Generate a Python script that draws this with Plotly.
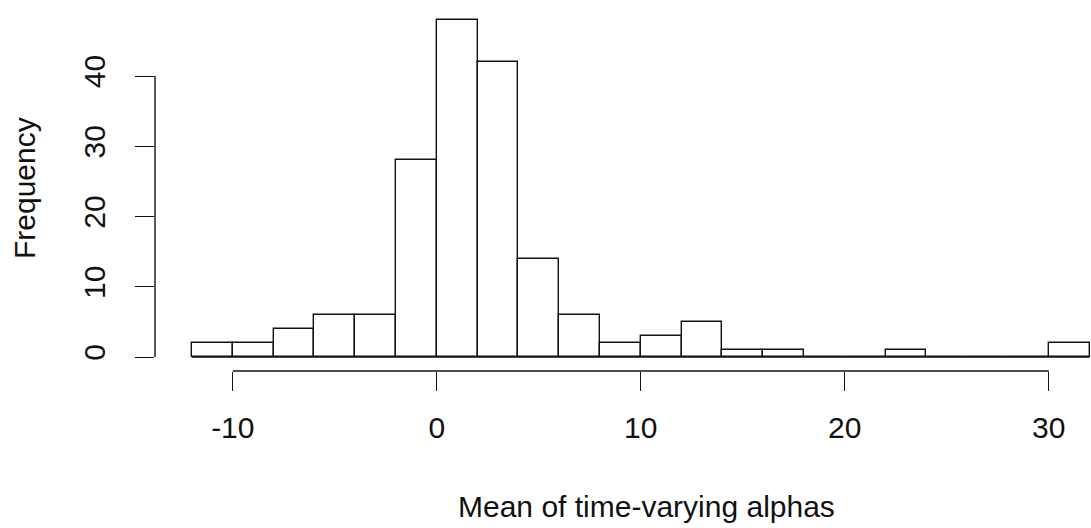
import plotly.graph_objects as go

# Histogram bins (left edges, width 2) and counts
bin_left = [-12, -10, -8, -6, -4, -2, 0, 2, 4, 6, 8, 10, 12, 14, 16, 18, 20, 22, 24, 26, 28, 30]
counts = [2, 2, 4, 6, 6, 28, 48, 42, 14, 6, 2, 3, 5, 1, 1, 0, 0, 1, 0, 0, 0, 2]
bin_width = 2
x_ticks = [-10, 0, 10, 20, 30]
x_tick_text = ["-10", "0", "10", "20", "30"]
y_ticks = [0, 10, 20, 30, 40]
x_title = "Mean of time-varying alphas"
y_title = "Frequency"

centers = [b + bin_width / 2 for b in bin_left]
LW = 1.4
FONT = "Liberation Sans, Arial, sans-serif"
FS = 30

# pixel geometry
W, H = 1091, 528
L, R, T, B = 155, 0, 14, 157
px_x = 20.4
px_y = 7.025
plot_w = W - L - R
plot_h = H - T - B
x0 = bin_left[0] - (192 - L) / px_x
x_range = [x0, x0 + plot_w / px_x]
y0 = -(371 - 357) / px_y
y_range = [y0, y0 + plot_h / px_y]

fig = go.Figure()
fig.add_trace(go.Bar(
    x=centers, y=counts, width=bin_width,
    marker=dict(color="white", line=dict(color="#111", width=LW)),
    showlegend=False, hoverinfo="x+y",
))
# baseline across all bins (zero-height bins drawn as line)
fig.add_trace(go.Scatter(
    x=[bin_left[0], bin_left[-1] + bin_width], y=[0, 0], mode="lines",
    line=dict(color="#111", width=LW), showlegend=False, hoverinfo="skip",
))

fig.update_layout(
    width=W, height=H,
    margin=dict(l=L, r=R, t=T, b=B, pad=0),
    paper_bgcolor="white", plot_bgcolor="white",
    bargap=0,
    font=dict(family=FONT, size=FS, color="#111"),
    xaxis=dict(range=x_range, tickvals=x_ticks, ticktext=x_tick_text,
               ticks="outside", ticklen=19,
               tickwidth=LW, tickcolor="#111", showgrid=False, zeroline=False,
               showline=False, ticklabelstandoff=11, tickfont=dict(size=FS)),
    yaxis=dict(range=y_range, tickvals=y_ticks, ticks="outside", ticklen=19,
               tickwidth=LW, tickcolor="#111", showgrid=False, zeroline=False,
               showline=False, tickangle=-90, ticklabelstandoff=18,
               tickfont=dict(size=FS)),
    shapes=[
        dict(type="line", xref="x", yref="paper", x0=x_ticks[0], x1=x_ticks[-1],
             y0=0, y1=0, line=dict(color="#111", width=LW)),
        dict(type="line", xref="paper", yref="y", x0=0, x1=0,
             y0=y_ticks[0], y1=y_ticks[-1], line=dict(color="#111", width=LW)),
    ],
    annotations=[
        dict(text=x_title, xref="paper", yref="paper",
             x=(646 - L) / plot_w, y=(H - B - 506) / plot_h,
             xanchor="center", yanchor="middle", showarrow=False,
             font=dict(size=FS)),
        dict(text=y_title, xref="paper", yref="paper",
             x=(24 - L) / plot_w, y=(H - B - 188) / plot_h, textangle=-90,
             xanchor="center", yanchor="middle", showarrow=False,
             font=dict(size=FS)),
    ],
)

fig.write_html("out.html")
